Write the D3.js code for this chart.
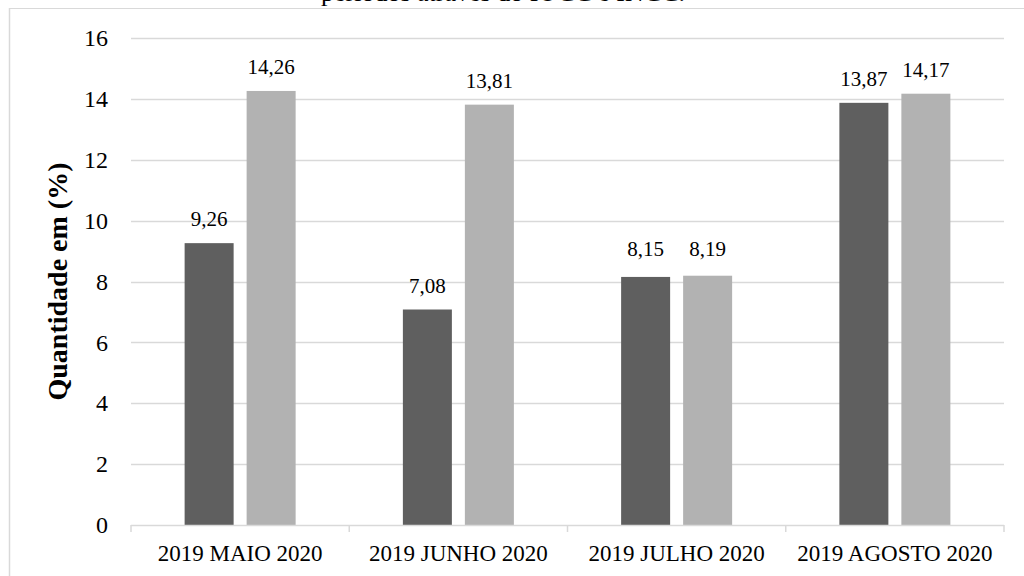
<!DOCTYPE html>
<html>
<head>
<meta charset="utf-8">
<script src="https://cdn.jsdelivr.net/npm/d3@7"></script>
<style>
  html, body { margin: 0; padding: 0; background: #fff; }
  svg { display: block; font-family: "Liberation Serif", "Times New Roman", serif; }
</style>
</head>
<body>
<svg id="chart" width="1024" height="576"></svg>
<script>
// Monthly percentages, 2019 vs 2020
const categories = ["2019 MAIO 2020", "2019 JUNHO 2020", "2019 JULHO 2020", "2019 AGOSTO 2020"];
const values2019 = [9.26, 7.08, 8.15, 13.87];
const values2020 = [14.26, 13.81, 8.19, 14.17];
const yTicks = [0, 2, 4, 6, 8, 10, 12, 14, 16];
const seriesColors = ["#5f5f5f", "#b2b2b2"];

// Extra lift (px) for labels that sit side by side
const labelLift = [[0, 0, 4, 0], [0, 0, 3, 0]];

const svg = d3.select("#chart");
const W = 1024, H = 576;
const margin = { left: 131, right: 20, top: 38, bottom: 51 };

// Outer frame (top and left edges visible)
svg.append("line").attr("x1", 9).attr("x2", W).attr("y1", 8.5).attr("y2", 8.5)
  .attr("stroke", "#d9d9d9").attr("stroke-width", 1);
svg.append("line").attr("x1", 9.5).attr("x2", 9.5).attr("y1", 8).attr("y2", H)
  .attr("stroke", "#d9d9d9").attr("stroke-width", 1.5);

// Title line, mostly outside the frame
svg.append("text").attr("x", 503).attr("y", 1).attr("text-anchor", "middle")
  .attr("font-size", 26).attr("fill", "#000")
  .text("períodos através do IOCC e INCC.");

const x = d3.scaleBand().domain(categories)
  .range([margin.left, W - margin.right]).paddingInner(0).paddingOuter(0);
const y = d3.scaleLinear().domain([0, 16]).range([H - margin.bottom, margin.top]);

// Gridlines
svg.append("g").selectAll("line").data(yTicks.filter(t => t > 0)).join("line")
  .attr("x1", margin.left).attr("x2", W - margin.right)
  .attr("y1", d => Math.round(y(d)) + 0.5).attr("y2", d => Math.round(y(d)) + 0.5)
  .attr("stroke", "#d9d9d9").attr("stroke-width", 1.5);

// Y axis labels
const yAxis = d3.axisLeft(y).tickValues(yTicks).tickSize(0).tickPadding(0);
const gy = svg.append("g").attr("transform", `translate(108,0)`).call(yAxis);
gy.select(".domain").remove();
gy.selectAll("text").attr("font-size", 24).attr("fill", "#000")
  .attr("font-family", "Liberation Serif, Times New Roman, serif");

// Y axis title
svg.append("text")
  .attr("transform", `translate(67,${(margin.top + H - margin.bottom) / 2}) rotate(-90)`)
  .attr("text-anchor", "middle").attr("font-size", 28).attr("font-weight", "bold")
  .text("Quantidade em (%)");

// Bars
const barW = 49, gap = 13;
const groups = svg.append("g").selectAll("g").data(categories).join("g")
  .attr("transform", d => `translate(${x(d) + x.bandwidth() / 2},0)`);

[values2019, values2020].forEach((vals, si) => {
  const off = si === 0 ? -(gap / 2 + barW) : gap / 2;
  groups.append("rect")
    .attr("x", off)
    .attr("width", barW)
    .attr("y", (d, i) => y(vals[i]))
    .attr("height", (d, i) => y(0) - y(vals[i]))
    .attr("fill", seriesColors[si]);
  groups.append("text")
    .attr("x", off + barW / 2)
    .attr("y", (d, i) => y(vals[i]) - 17 - labelLift[si][i])
    .attr("text-anchor", "middle").attr("font-size", 21).attr("fill", "#000")
    .text((d, i) => vals[i].toFixed(2).replace(".", ","));
});

// X axis with category separators
const xAxis = d3.axisBottom(x).tickSize(0).tickPadding(0);
const gx = svg.append("g").attr("transform", `translate(0,${y(0)})`).call(xAxis);
gx.select(".domain").remove();
gx.selectAll("text").attr("font-size", 23).attr("fill", "#000")
  .attr("y", 36).attr("dy", null)
  .attr("font-family", "Liberation Serif, Times New Roman, serif");
svg.append("line").attr("x1", margin.left).attr("x2", W - margin.right)
  .attr("y1", y(0) + 0.5).attr("y2", y(0) + 0.5).attr("stroke", "#d9d9d9").attr("stroke-width", 1.5);
const seps = categories.map(c => x(c)).concat([W - margin.right]);
svg.append("g").selectAll("line").data(seps).join("line")
  .attr("x1", d => d).attr("x2", d => d)
  .attr("y1", y(0)).attr("y2", y(0) + 7)
  .attr("stroke", "#d9d9d9").attr("stroke-width", 1.5);
</script>
</body>
</html>
